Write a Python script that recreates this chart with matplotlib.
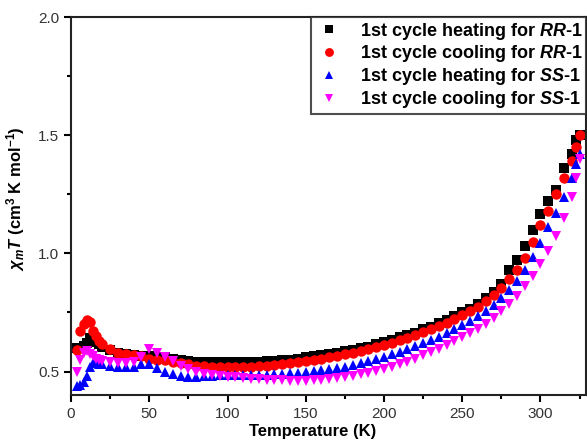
import matplotlib
matplotlib.use("Agg")
import matplotlib.pyplot as plt
from matplotlib.ticker import MultipleLocator

plt.rcParams['font.family'] = ['Liberation Sans', 'DejaVu Sans']
plt.rcParams['mathtext.fontset'] = 'custom'
plt.rcParams['mathtext.rm'] = 'Liberation Sans:bold'
plt.rcParams['mathtext.it'] = 'Liberation Sans:italic:bold'
plt.rcParams['mathtext.bf'] = 'Liberation Sans:bold'

temperature = [4, 6, 8, 10, 12, 14, 16, 18, 20, 25, 30, 35, 40, 45, 50, 55, 60, 65, 70, 75,
               80, 85, 90, 95, 100, 105, 110, 115, 120, 125, 130, 135, 140, 145, 150, 155,
               160, 165, 170, 175, 180, 185, 190, 195, 200, 205, 210, 215, 220, 225, 230,
               235, 240, 245, 250, 255, 260, 265, 270, 275, 280, 285, 290, 295, 300, 305,
               310, 315, 320, 323, 325]

rr_heating = [0.60, 0.60, 0.61, 0.62, 0.64, 0.635, 0.625, 0.615, 0.605, 0.59, 0.58, 0.575,
              0.57, 0.565, 0.565, 0.56, 0.56, 0.555, 0.55, 0.545, 0.54, 0.54, 0.54, 0.54,
              0.54, 0.54, 0.54, 0.54, 0.54, 0.545, 0.545, 0.55, 0.55, 0.555, 0.56, 0.565,
              0.57, 0.575, 0.58, 0.585, 0.59, 0.60, 0.605, 0.615, 0.625, 0.635, 0.645,
              0.655, 0.665, 0.68, 0.69, 0.705, 0.72, 0.735, 0.75, 0.765, 0.785, 0.81,
              0.835, 0.87, 0.93, 0.97, 1.03, 1.10, 1.165, 1.22, 1.27, 1.36, 1.42, 1.48, 1.50]

rr_cooling = [0.59, 0.67, 0.70, 0.72, 0.71, 0.67, 0.65, 0.63, 0.615, 0.595, 0.58, 0.575,
              0.57, 0.565, 0.555, 0.55, 0.548, 0.542, 0.535, 0.53, 0.525, 0.522, 0.52, 0.52,
              0.52, 0.52, 0.52, 0.52, 0.522, 0.525, 0.527, 0.53, 0.535, 0.54, 0.545, 0.55,
              0.555, 0.56, 0.567, 0.575, 0.58, 0.587, 0.595, 0.603, 0.612, 0.622, 0.632,
              0.643, 0.655, 0.667, 0.68, 0.693, 0.707, 0.722, 0.738, 0.755, 0.775, 0.798,
              0.825, 0.855, 0.89, 0.93, 0.98, 1.05, 1.12, 1.18, 1.25, 1.32, 1.39, 1.45, 1.50]

ss_heating = [0.44, 0.445, 0.455, 0.48, 0.52, 0.535, 0.535, 0.53, 0.53, 0.525, 0.52, 0.52,
              0.52, 0.53, 0.53, 0.515, 0.50, 0.49, 0.48, 0.475, 0.475, 0.48, 0.48, 0.485,
              0.485, 0.485, 0.485, 0.485, 0.485, 0.487, 0.49, 0.49, 0.492, 0.495, 0.498,
              0.502, 0.506, 0.51, 0.515, 0.52, 0.527, 0.535, 0.543, 0.552, 0.562, 0.572,
              0.583, 0.595, 0.607, 0.62, 0.633, 0.647, 0.662, 0.678, 0.695, 0.713, 0.733,
              0.755, 0.78, 0.81, 0.845, 0.885, 0.93, 0.985, 1.045, 1.11, 1.17, 1.24, 1.32,
              1.38, 1.42]

ss_cooling = [0.50, 0.55, 0.58, 0.585, 0.575, 0.565, 0.555, 0.55, 0.545, 0.54, 0.535, 0.535,
              0.54, 0.56, 0.595, 0.58, 0.56, 0.545, 0.525, 0.51, 0.50, 0.49, 0.485, 0.48,
              0.478, 0.475, 0.472, 0.47, 0.468, 0.466, 0.464, 0.462, 0.461, 0.46, 0.46,
              0.462, 0.465, 0.468, 0.472, 0.477, 0.482, 0.488, 0.495, 0.502, 0.51, 0.52,
              0.53, 0.542, 0.555, 0.568, 0.582, 0.597, 0.612, 0.63, 0.645, 0.662, 0.68,
              0.70, 0.725, 0.755, 0.785, 0.82, 0.86, 0.905, 0.955, 1.01, 1.075, 1.15, 1.24,
              1.32, 1.40]

labels = [r'1st cycle heating for $RR$-1', r'1st cycle cooling for $RR$-1',
          r'1st cycle heating for $SS$-1', r'1st cycle cooling for $SS$-1']
colors = ['black', 'red', 'blue', 'magenta']
markers = ['s', 'o', '^', 'v']
sizes = [7.0, 7.5, 7.5, 7.5]

fig = plt.figure(figsize=(5.87, 4.42), dpi=100)
ax = fig.add_axes([0.121, 0.106, 0.877, 0.8555])

series = [rr_heating, rr_cooling, ss_heating, ss_cooling]
for ys, c, m, ms, lab in zip(series, colors, markers, sizes, labels):
    ax.plot(temperature, ys, linestyle='none', marker=m, color=c, markersize=ms,
            markeredgewidth=0, label=lab)

ax.set_xlim(0, 329)
ax.set_ylim(0.4, 2.0)
ax.xaxis.set_major_locator(MultipleLocator(50))
ax.xaxis.set_minor_locator(MultipleLocator(25))
ax.yaxis.set_major_locator(MultipleLocator(0.5))
ax.yaxis.set_minor_locator(MultipleLocator(0.25))
ax.tick_params(which='major', direction='out', length=5, width=1.5, labelsize=11,
               labelcolor='#333333', top=False, right=False)
ax.tick_params(which='minor', direction='out', length=3, width=1.5, top=False, right=False)
for s in ax.spines.values():
    s.set_linewidth(1.5)
    s.set_color('#222222')

ax.set_xlabel('Temperature (K)', fontsize=12, fontweight='bold', labelpad=0)
ax.xaxis.set_label_coords(0.47, -0.075)
ax.set_ylabel(r'$\chi_m T$ (cm$^3$ K mol$^{-1}$)', fontsize=12, fontweight='bold')
ax.yaxis.set_label_coords(-0.085, 0.52)

leg = ax.legend(loc='upper right', frameon=True, fancybox=False,
                edgecolor='#222222', borderaxespad=0, handletextpad=0.9,
                labelspacing=0.1, borderpad=0.2, handlelength=1.6, markerscale=0.85,
                prop={'weight': 'bold', 'size': 13})
leg.get_frame().set_linewidth(1.5)

fig.savefig('out.png', dpi=100)
